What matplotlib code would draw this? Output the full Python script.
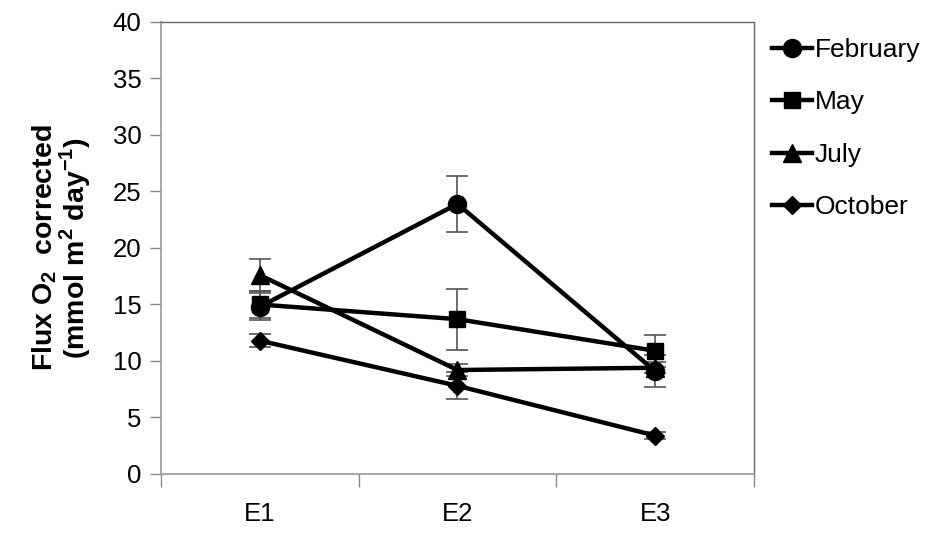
import matplotlib
matplotlib.use("Agg")
import matplotlib.pyplot as plt

plt.rcParams['font.family'] = ['Liberation Sans', 'DejaVu Sans']

sites = ["E1", "E2", "E3"]
months = ["February", "May", "July", "October"]
values = {
    "February": [14.8, 23.9, 9.1],
    "May": [15.0, 13.7, 10.9],
    "July": [17.6, 9.2, 9.4],
    "October": [11.8, 7.8, 3.4],
}
errors = {
    "February": [1.2, 2.5, 1.4],
    "May": [1.2, 2.7, 1.4],
    "July": [1.4, 0.5, 0.5],
    "October": [0.6, 1.2, 0.3],
}
markers = {"February": "o", "May": "s", "July": "^", "October": "D"}
msizes = {"February": 13, "May": 12, "July": 13, "October": 9}

fig = plt.figure(figsize=(9.32, 5.36), dpi=100)
ax = fig.add_axes([0.1727, 0.1157, 0.6363, 0.8433])

x = list(range(1, len(sites) + 1))
for m in months:
    ax.errorbar(x, values[m], yerr=errors[m], fmt='none', ecolor='#555555',
                elinewidth=1.2, capsize=8, capthick=1.2, zorder=2)
for m in months:
    ax.plot(x, values[m], color='black', lw=3.2, marker=markers[m],
            markersize=msizes[m], markerfacecolor='black',
            markeredgecolor='black', label=m, zorder=3)

ax.set_xlim(0.5, 3.5)
ax.set_ylim(0, 40)
ax.set_yticks(range(0, 41, 5))
ax.set_xticks([0.5, 1.5, 2.5, 3.5])
ax.set_xticklabels([])
ax.set_xticks(x, minor=True)
ax.set_xticklabels(sites, minor=True)
ax.tick_params(axis='x', which='minor', length=0, pad=20, labelsize=18.5)
ax.tick_params(axis='x', which='major', length=9, width=1, color='#888888', direction='out')
ax.tick_params(axis='y', length=8, width=1, color='#888888', direction='out', labelsize=18.5, pad=6)

for s in ['left', 'bottom']:
    ax.spines[s].set_color('#999999')
    ax.spines[s].set_linewidth(1.2)
for s in ['top', 'right']:
    ax.spines[s].set_color('#666666')
    ax.spines[s].set_linewidth(1.0)

ax.set_ylabel("Flux O$_\\mathregular{2}$  corrected\n(mmol m$^\\mathregular{2}$ day$^\\mathregular{-1}$)",
              fontsize=20.5, fontweight='bold', labelpad=14, linespacing=0.95)

leg = ax.legend(loc='upper left', bbox_to_anchor=(1.0, 1.006), frameon=False,
                fontsize=19, handlelength=1.5, handletextpad=0.1,
                labelspacing=1.08, borderaxespad=0.3)

fig.savefig("out.png", dpi=100)
